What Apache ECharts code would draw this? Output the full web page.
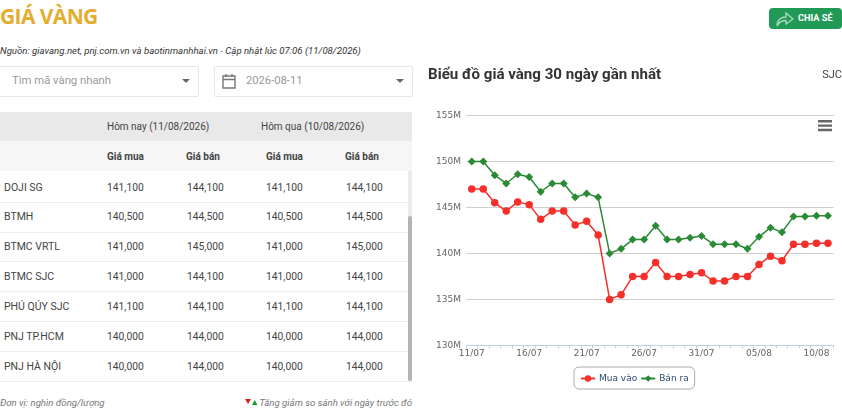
<!DOCTYPE html>
<html><head><meta charset="utf-8">
<style>
html,body{margin:0;padding:0;background:#fff;width:842px;height:419px;overflow:hidden;font-family:Roboto,sans-serif;color:#333}
.a{position:absolute;white-space:nowrap}
.box{position:absolute;top:66px;height:29px;background:#fff;border:1px solid #e6e6e6;border-radius:2px;box-sizing:content-box}
.caret{position:absolute;width:0;height:0;border-left:4px solid transparent;border-right:4px solid transparent;border-top:4px solid #666}
#chart{position:absolute;left:420px;top:0;width:422px;height:419px}
</style></head><body>
<div class="a" style="left:0;top:2px;font:700 21px 'Open Sans',sans-serif;color:#e3ad2f;letter-spacing:-0.6px">GIÁ VÀNG</div>
<div class="a" style="left:769px;top:8px;width:73px;height:21px;background:#219a57;border-radius:4px"></div>
<svg class="a" style="left:776px;top:10px" width="18" height="18" viewBox="0 0 18 18"><path d="M1 16C1 10 5 7 10 7V3L17 9L10 14V10.500C6 10.500 3 12 1 16Z" fill="none" stroke="#a8d8bb" stroke-width="1.300"/></svg>
<div class="a" style="left:798px;top:12px;font:700 9.200px Roboto,sans-serif;color:#fff">CHIA SẺ</div>
<div class="a" style="left:0;top:45px;font:italic 9.600px Roboto,sans-serif;color:#333">Nguồn: giavang.net, pnj.com.vn và baotinmanhhai.vn - Cập nhật lúc 07:06 (11/08/2026)</div>
<div class="box" style="left:-2px;width:199px"></div>
<div class="a" style="left:12px;top:74px;font:11.300px Roboto,sans-serif;color:#9a9a9a">Tìm mã vàng nhanh</div>
<div class="caret" style="left:182px;top:79px"></div>
<div class="box" style="left:214px;width:197px"></div>
<svg class="a" style="left:222px;top:73px" width="14" height="16" viewBox="0 0 14 16"><path d="M1 3H13V15H1ZM1 6.500H13M4 1V4M10 1V4" fill="none" stroke="#777" stroke-width="1.400"/></svg>
<div class="a" style="left:246px;top:74px;font:11.200px Roboto,sans-serif;color:#9a9a9a">2026-08-11</div>
<div class="caret" style="left:396px;top:79px"></div>
<div class="a" style="left:0;top:112px;width:412px;height:29px;background:#e9e9e9"></div>
<div class="a" style="left:0;top:141px;width:412px;height:30px;background:#f6f6f6"></div>
<div id="tbl"></div>
<div class="a" style="left:408px;top:171px;width:4px;height:211px;background:#ececec"></div>
<div class="a" style="left:408px;top:216px;width:4px;height:165px;background:#b4b4b4;border-radius:2px"></div>
<div class="a" style="left:0;top:397px;font:italic 9.600px Roboto,sans-serif;color:#777">Đơn vị: nghìn đồng/lượng</div>
<svg class="a" style="left:245px;top:399px" width="13" height="7" viewBox="0 0 13 7"><path d="M0 0H6L3 5Z" fill="#e02020"/><path d="M7 6H12.500L9.750 1Z" fill="#1a9a2a"/></svg>
<div class="a" style="right:430px;top:397px;font:italic 9.600px Roboto,sans-serif;color:#777">Tăng giảm so sánh với ngày trước đó</div>
<div id="chart"></div>
<script src="https://cdn.jsdelivr.net/npm/echarts@6/dist/echarts.min.js"></script>
<script>
const categories=["11/07","12/07","13/07","14/07","15/07","16/07","17/07","18/07","19/07","20/07","21/07","22/07","23/07","24/07","25/07","26/07","27/07","28/07","29/07","30/07","31/07","01/08","02/08","03/08","04/08","05/08","06/08","07/08","08/08","09/08","10/08","11/08"];
const buyM=[147,147,145.5,144.6,145.6,145.3,143.7,144.6,144.6,143.1,143.5,142,135,135.5,137.5,137.5,139,137.5,137.5,137.7,137.9,137,137,137.5,137.5,138.8,139.7,139.2,141,141,141.1,141.1];
const sellM=[150,150,148.5,147.6,148.6,148.3,146.7,147.6,147.6,146.1,146.5,146.1,140,140.5,141.5,141.5,143,141.5,141.5,141.7,141.9,141,141,141,140.5,141.8,142.8,142.3,144,144,144.1,144.1];
const tableNames=["DOJI SG","BTMH","BTMC VRTL","BTMC SJC","PHÚ QÚY SJC","PNJ TP.HCM","PNJ HÀ NỘI"];
const todayBuy=["141,100","140,500","141,000","141,000","141,100","140,000","140,000"];
const todaySell=["144,100","144,500","145,000","144,100","144,100","144,000","144,000"];
const yesterdayBuy=["141,100","140,500","141,000","141,000","141,100","140,000","140,000"];
const yesterdaySell=["144,100","144,500","145,000","144,100","144,100","144,000","144,000"];
const colHeads=["Giá mua","Giá bán","Giá mua","Giá bán"];

let h='';
const put=(x,y,t,st)=>{h+=`<div class="a" style="left:${x}px;top:${y}px;line-height:14px;${st}">${t}</div>`};
put(107,119.5,"Hôm nay (11/08/2026)","font-size:10px;color:#444");
put(261,119.5,"Hôm qua (10/08/2026)","font-size:10px;color:#444");
[107,186,266,345].forEach((x,i)=>put(x,150,colHeads[i],"font-size:10px;font-weight:700;color:#444"));
const rowY=[181,210,240,270,300,330,360];
const lines=[202,232,261,291,321,351,381];
tableNames.forEach((n,i)=>{
  put(4,rowY[i],n,"font-size:10.5px;color:#444");
  [[107,todayBuy],[187,todaySell],[266,yesterdayBuy],[346,yesterdaySell]].forEach(c=>put(c[0],rowY[i],c[1][i],"font-size:10.3px;color:#444"));
  h+=`<div class="a" style="left:0;top:${lines[i]}px;width:408px;height:1px;background:#eee"></div>`;
});
document.getElementById('tbl').innerHTML=h;

const chart=echarts.init(document.getElementById('chart'),null,{renderer:'canvas'});
const axisFont={fontFamily:'DejaVu Sans',fontSize:9,color:'#666'};
chart.setOption({
  animation:false,
  title:[
    {text:'Biểu đồ giá vàng 30 ngày gần nhất',left:8,top:68,padding:0,textStyle:{fontFamily:'Roboto',fontWeight:700,fontSize:15.1,color:'#333'}},
    {text:'SJC',right:0,top:70,padding:0,textStyle:{fontFamily:'Roboto',fontWeight:400,fontSize:11,color:'#444'}}
  ],
  grid:{left:46,right:8.3,top:115.4,bottom:73.6},
  toolbox:{show:true,right:10,top:120,padding:0,itemSize:14,feature:{myMenu:{show:true,title:'',icon:'path://M0 0H14V2.400H0ZM0 4.400H14V6.800H0ZM0 8.800H14V11.200H0Z',onclick:function(){}}},iconStyle:{color:'#666',borderWidth:0}},
  legend:{
    left:154,top:367,padding:[7,6,6,6],itemGap:3,itemWidth:14,itemHeight:8,
    borderColor:'#aaa',borderWidth:1,borderRadius:5,backgroundColor:'#fff',
    textStyle:{fontFamily:'DejaVu Sans',fontSize:9,color:'#274b6d',padding:[0,0,0,-1]},
    data:['Mua vào','Bán ra']
  },
  xAxis:{type:'category',data:categories,boundaryGap:true,
    axisLine:{lineStyle:{color:'#c0d0e0',width:1}},
    axisTick:{show:true,interval:0,length:3,lineStyle:{color:'#c0d0e0'}},
    axisLabel:Object.assign({interval:4,margin:4,hideOverlap:false},axisFont),
    splitLine:{show:false}},
  yAxis:{type:'value',min:130,max:155,interval:5,
    axisLine:{show:false},axisTick:{show:false},
    axisLabel:Object.assign({margin:5,formatter:v=>v+'M'},axisFont),
    splitLine:{lineStyle:{color:'#cfcfcf',width:1}}},
  series:[
    {name:'Mua vào',type:'line',data:buyM,symbol:'circle',symbolSize:7.5,showAllSymbol:true,
      lineStyle:{color:'#f5302a',width:1.5},itemStyle:{color:'#f5302a'}},
    {name:'Bán ra',type:'line',data:sellM,symbol:'diamond',symbolSize:8,showAllSymbol:true,
      lineStyle:{color:'#2a8a35',width:1.5},itemStyle:{color:'#2a8a35'}}
  ]
});
</script>
</body></html>
